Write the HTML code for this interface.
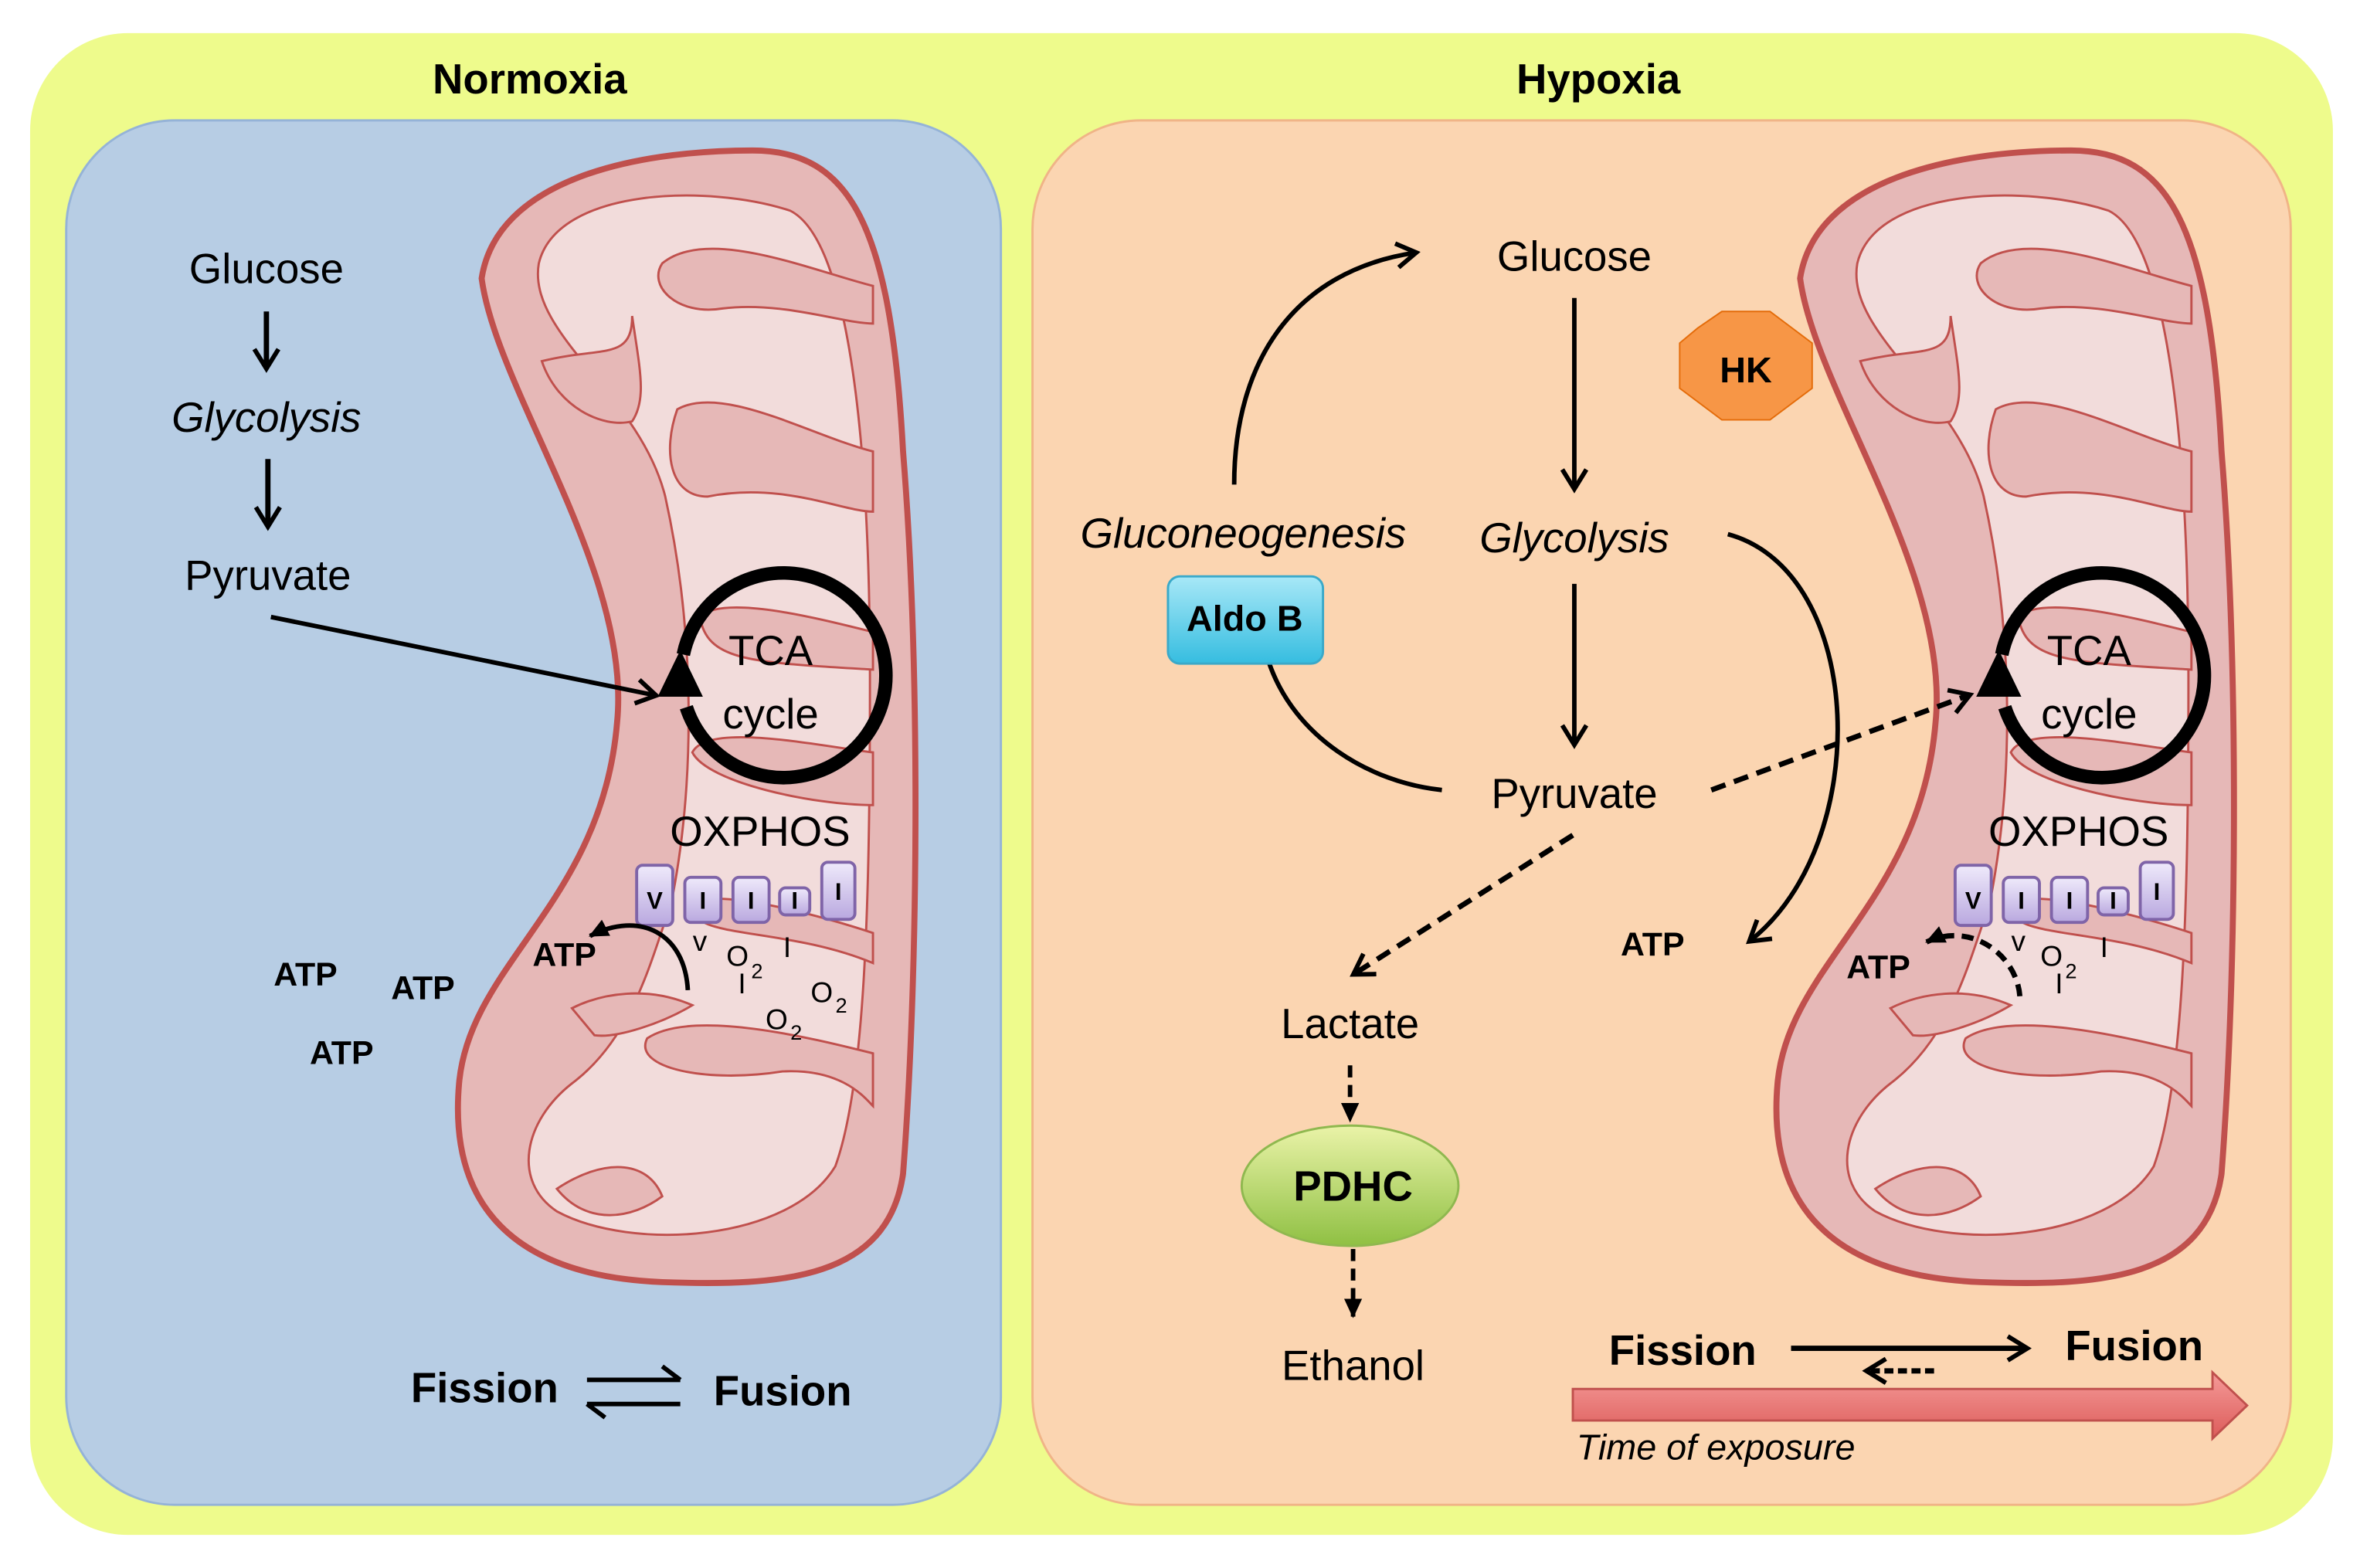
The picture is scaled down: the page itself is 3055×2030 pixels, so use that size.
<!DOCTYPE html>
<html><head><meta charset="utf-8"><style>
html,body{margin:0;padding:0;background:#fff;width:3055px;height:2030px;overflow:hidden}
svg{display:block}
text{font-family:"Liberation Sans",sans-serif;fill:#000}
</style></head><body>
<svg width="3055" height="2030" viewBox="0 0 1568 1042" preserveAspectRatio="none" xmlns="http://www.w3.org/2000/svg">
<defs>
<marker id="ah" markerWidth="8" markerHeight="8" refX="6" refY="4" orient="auto" markerUnits="userSpaceOnUse" viewBox="0 0 8 8"><path d="M0,0 L7,4 L0,8" fill="none" stroke="#000" stroke-width="1.6"/></marker>
<marker id="ah2" markerWidth="20" markerHeight="20" refX="14" refY="10" orient="auto" markerUnits="userSpaceOnUse"><path d="M2,2 L15,10 L2,18" fill="none" stroke="#000" stroke-width="3"/></marker>
<marker id="af" markerWidth="14" markerHeight="14" refX="12" refY="7" orient="auto" markerUnits="userSpaceOnUse"><path d="M0,1 L13,7 L0,13 Z" fill="#000"/></marker>
<linearGradient id="cx" x1="0" y1="0" x2="0" y2="1"><stop offset="0" stop-color="#efeafb"/><stop offset="1" stop-color="#b9a8df"/></linearGradient>
<linearGradient id="cy" x1="0" y1="0" x2="0" y2="1"><stop offset="0" stop-color="#a8e8f7"/><stop offset="1" stop-color="#35bde0"/></linearGradient>
<linearGradient id="gr" x1="0" y1="0" x2="0" y2="1"><stop offset="0" stop-color="#eaf3a8"/><stop offset="1" stop-color="#8fc043"/></linearGradient>
<linearGradient id="rd" x1="0" y1="0" x2="0" y2="1"><stop offset="0" stop-color="#f59a98"/><stop offset="1" stop-color="#dc5c5a"/></linearGradient>
<g id="mito">
<path d="M320,185 C330,120 420,100 500,100 C565,100 592,150 600,300 C612,450 610,650 600,780 C590,850 520,855 440,852 C340,848 298,800 305,720 C312,640 400,600 410,480 C420,380 330,260 320,185 Z" fill="#e6b8b7" stroke="#c0504d" stroke-width="4"/>
<path d="M358,175 C370,125 470,122 525,140 C565,160 578,300 578,450 C578,600 575,720 555,775 C525,825 420,832 370,805 C340,785 348,745 380,720 C420,690 432,640 446,600 C462,520 462,420 442,330 C425,262 350,222 358,175 Z" fill="#f2dcdb" stroke="#c0504d" stroke-width="1.5"/>
<g fill="#e6b8b7" stroke="#c0504d" stroke-width="1.5">
<path d="M580,190 C540,180 470,150 440,175 C430,190 450,210 480,205 C520,200 560,215 580,215 Z"/>
<path d="M580,300 C540,290 480,255 450,272 C440,300 445,330 470,330 C520,320 560,340 580,340 Z"/>
<path d="M580,420 C540,410 480,395 465,410 C470,440 500,440 580,445 Z"/>
<path d="M580,500 C540,495 470,480 460,500 C470,520 540,535 580,535 Z"/>
<path d="M580,620 C550,610 480,590 460,600 C455,625 520,615 580,640 Z"/>
<path d="M580,700 C540,690 460,670 430,690 C420,710 470,720 520,712 C560,710 575,730 580,735 Z"/>
<path d="M360,240 C400,230 420,240 420,210 C425,245 430,265 420,280 C400,285 370,270 360,240 Z"/>
<path d="M380,670 C400,660 430,655 460,668 C440,680 410,690 395,688 Z"/>
<path d="M370,790 C400,770 430,770 440,795 C420,810 390,815 370,790 Z"/>
</g>
<path d="M454,435 A68,68 0 1 1 456,470" fill="none" stroke="#000" stroke-width="9"/>
<path d="M437,463 L452,432 L467,463 Z" fill="#000"/>
<text x="512" y="442" font-size="28" text-anchor="middle">TCA</text>
<text x="512" y="484" font-size="28" text-anchor="middle">cycle</text>
<text x="505" y="562" font-size="28" text-anchor="middle">OXPHOS</text>
<g fill="url(#cx)" stroke="#7f64a8" stroke-width="2">
<rect x="423" y="575" width="24" height="40" rx="4"/>
<rect x="455" y="583" width="24" height="30" rx="4"/>
<rect x="487" y="583" width="24" height="30" rx="4"/>
<rect x="518" y="590" width="20" height="18" rx="4"/>
<rect x="546" y="573" width="22" height="38" rx="4"/>
</g>
<g font-weight="bold" font-size="16" text-anchor="middle">
<text x="435" y="604">V</text><text x="467" y="604">I</text><text x="499" y="604">I</text><text x="528" y="604">I</text><text x="557" y="598">I</text>
</g>
</g>
</defs>

<rect x="20" y="22" width="1530" height="998" rx="65" fill="#eefb8c"/>
<text x="352" y="62" font-size="28" font-weight="bold" text-anchor="middle">Normoxia</text>
<text x="1062" y="62" font-size="28" font-weight="bold" text-anchor="middle">Hypoxia</text>
<rect x="44" y="80" width="621" height="920" rx="72" fill="#b7cde4" stroke="#95b3d7" stroke-width="1.5"/>
<rect x="686" y="80" width="836" height="920" rx="72" fill="#fbd5b1" stroke="#f0b487" stroke-width="1.5"/>

<use href="#mito"/>
<g font-size="19" text-anchor="middle">
<text x="465" y="632">v</text><text x="490" y="642">O</text><text x="503" y="650" font-size="14">2</text>
<text x="493" y="660">I</text><text x="523" y="636">I</text>
<text x="546" y="666">O</text><text x="559" y="673" font-size="14">2</text>
<text x="516" y="684">O</text><text x="529" y="691" font-size="14">2</text>
</g>
<text x="375" y="642" font-size="22" font-weight="bold" text-anchor="middle">ATP</text>
<path d="M457,658 C455,620 425,605 392,622" fill="none" stroke="#000" stroke-width="3" marker-end="url(#af)"/>
<g font-size="22" font-weight="bold" text-anchor="middle">
<text x="203" y="655">ATP</text><text x="281" y="664">ATP</text><text x="227" y="707">ATP</text>
</g>
<g font-size="28" text-anchor="middle">
<text x="177" y="188">Glucose</text>
<text x="177" y="287" font-style="italic">Glycolysis</text>
<text x="178" y="392">Pyruvate</text>
</g>
<line x1="177" y1="207" x2="177" y2="244" stroke="#000" stroke-width="3.5" marker-end="url(#ah2)"/>
<line x1="178" y1="305" x2="178" y2="349" stroke="#000" stroke-width="3.5" marker-end="url(#ah2)"/>
<line x1="180" y1="410" x2="435" y2="462" stroke="#000" stroke-width="3" marker-end="url(#ah2)"/>
<text x="322" y="932" font-size="28" font-weight="bold" text-anchor="middle">Fission</text>
<text x="520" y="934" font-size="28" font-weight="bold" text-anchor="middle">Fusion</text>
<path d="M390,917 L452,917 M440,908 L452,917" fill="none" stroke="#000" stroke-width="3"/>
<path d="M452,933 L390,933 M402,942 L390,933" fill="none" stroke="#000" stroke-width="3"/>

<use href="#mito" transform="translate(876,0)"/>
<g font-size="19" text-anchor="middle">
<text x="1341" y="632">v</text><text x="1363" y="642">O</text><text x="1376" y="650" font-size="14">2</text>
<text x="1368" y="660">I</text><text x="1398" y="636">I</text>
</g>
<text x="1248" y="650" font-size="22" font-weight="bold" text-anchor="middle">ATP</text>
<path d="M1342,662 C1340,635 1310,612 1280,626" fill="none" stroke="#000" stroke-width="3.5" stroke-dasharray="8,5" marker-end="url(#af)"/>

<g font-size="28" text-anchor="middle">
<text x="1046" y="180">Glucose</text>
<text x="1046" y="367" font-style="italic">Glycolysis</text>
<text x="1046" y="537">Pyruvate</text>
<text x="826" y="364" font-style="italic">Gluconeogenesis</text>
<text x="897" y="690">Lactate</text>
<text x="899" y="917">Ethanol</text>
</g>
<line x1="1046" y1="198" x2="1046" y2="324" stroke="#000" stroke-width="3" marker-end="url(#ah2)"/>
<line x1="1046" y1="388" x2="1046" y2="494" stroke="#000" stroke-width="3" marker-end="url(#ah2)"/>
<path d="M820,322 C820,240 860,180 940,168" fill="none" stroke="#000" stroke-width="3" marker-end="url(#ah2)"/>
<path d="M843,440 C860,490 910,520 958,525" fill="none" stroke="#000" stroke-width="3"/>
<rect x="776" y="383" width="103" height="58" rx="8" fill="url(#cy)" stroke="#3aa9c9" stroke-width="1.5"/>
<text x="827" y="419" font-size="24" font-weight="bold" text-anchor="middle">Aldo B</text>
<polygon points="1128,218 1144,207 1176,207 1204,228 1204,258 1176,279 1144,279 1116,258 1116,228" fill="#f79646" stroke="#e46c0a" stroke-width="1"/>
<text x="1160" y="254" font-size="24" font-weight="bold" text-anchor="middle">HK</text>
<path d="M1148,355 C1240,380 1245,560 1163,625" fill="none" stroke="#000" stroke-width="3" marker-end="url(#ah2)"/>
<text x="1098" y="635" font-size="22" font-weight="bold" text-anchor="middle">ATP</text>
<line x1="1137" y1="525" x2="1308" y2="462" stroke="#000" stroke-width="3.5" stroke-dasharray="10,6" marker-end="url(#ah2)"/>
<line x1="1045" y1="555" x2="900" y2="647" stroke="#000" stroke-width="3.5" stroke-dasharray="10,6" marker-end="url(#ah2)"/>
<line x1="897" y1="708" x2="897" y2="745" stroke="#000" stroke-width="3" stroke-dasharray="8,5" marker-end="url(#af)"/>
<ellipse cx="897" cy="788" rx="72" ry="40" fill="url(#gr)" stroke="#8fb84f" stroke-width="1.5"/>
<text x="899" y="798" font-size="28" font-weight="bold" text-anchor="middle">PDHC</text>
<line x1="899" y1="830" x2="899" y2="875" stroke="#000" stroke-width="3" stroke-dasharray="8,5" marker-end="url(#af)"/>

<text x="1118" y="907" font-size="28" font-weight="bold" text-anchor="middle">Fission</text>
<text x="1418" y="904" font-size="28" font-weight="bold" text-anchor="middle">Fusion</text>
<line x1="1190" y1="896" x2="1346" y2="896" stroke="#000" stroke-width="3.5" marker-end="url(#ah2)"/>
<line x1="1285" y1="911" x2="1241" y2="911" stroke="#000" stroke-width="3.5" stroke-dasharray="6,3" marker-end="url(#ah2)"/>
<path d="M1045,923 L1470,923 L1470,912 L1493,934 L1470,956 L1470,944 L1045,944 Z" fill="url(#rd)" stroke="#c0504d" stroke-width="1.5"/>
<text x="1140" y="970" font-size="24" font-style="italic" text-anchor="middle">Time of exposure</text>
</svg>
</body></html>
